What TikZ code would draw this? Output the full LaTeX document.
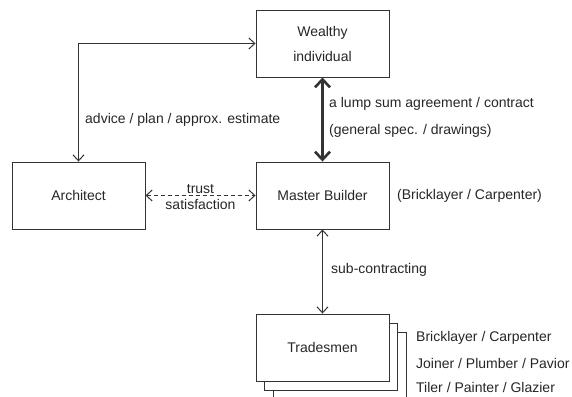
\documentclass[tikz,border=0pt]{standalone}
\usepackage{fontspec}
\setmainfont{Liberation Sans}
\usetikzlibrary{arrows.meta}
\begin{document}
\begin{tikzpicture}[x=1pt,y=-1pt,
  font=\fontsize{14}{25}\selectfont,
  text=black!85,
  ink/.style={draw=black!80},
  box/.style={ink, fill=white, line width=0.9pt, minimum width=133pt, minimum height=67pt,
    inner sep=0pt, align=center},
  link/.style={ink, line width=1pt, {Straight Barb[length=6pt,width=11pt]}-{Straight Barb[length=6pt,width=11pt]}},
  biglink/.style={ink, line width=2.6pt, {Straight Barb[length=8pt,width=15pt]}-{Straight Barb[length=8pt,width=15pt]}},
  lbl/.style={inner sep=0pt, anchor=west}]
\useasboundingbox (0,0) rectangle (572,396);
\clip (0,0) rectangle (572,396);

% main parties
\node[box] (wealthy) at (322.5,43.5) {Wealthy\\individual};
\node[box] (mb) at (322.5,195.5) {Master Builder};
\node[box] (arch) at (78.5,195.5) {Architect};

% stacked tradesmen cards
\node[box] (tr3) at (339.5,365.5) {};
\node[box] (tr2) at (331,356.5) {};
\node[box] (tr) at (322.5,347.5) {Tradesmen};

% connectors
\draw[link] (arch) |- (wealthy);
\draw[biglink] (wealthy) -- (mb);
\draw[link, dashed, dash pattern=on 4pt off 3pt] (arch) -- (mb)
  node[midway, above=1pt, inner sep=0pt] (trust) {trust}
  node[midway, below=3pt, inner sep=0pt] (satis) {satisfaction};
\draw[link] (mb) -- (tr);

% labels
\node[lbl] (advice) at (85,120) {advice / plan / approx. estimate};
\node[lbl] (lump1) at (329,104) {a lump sum agreement / contract};
\node[lbl] (lump2) at (329,131) {(general spec. / drawings)};
\node[lbl] (mbnote) at (397,196) {(Bricklayer / Carpenter)};
\node[lbl] (sub) at (331,270) {sub-contracting};
\node[lbl] (t1) at (416,338) {Bricklayer / Carpenter};
\node[lbl] (t2) at (416,363) {Joiner / Plumber / Pavior};
\node[lbl] (t3) at (416,387) {Tiler / Painter / Glazier};
\end{tikzpicture}
\end{document}
